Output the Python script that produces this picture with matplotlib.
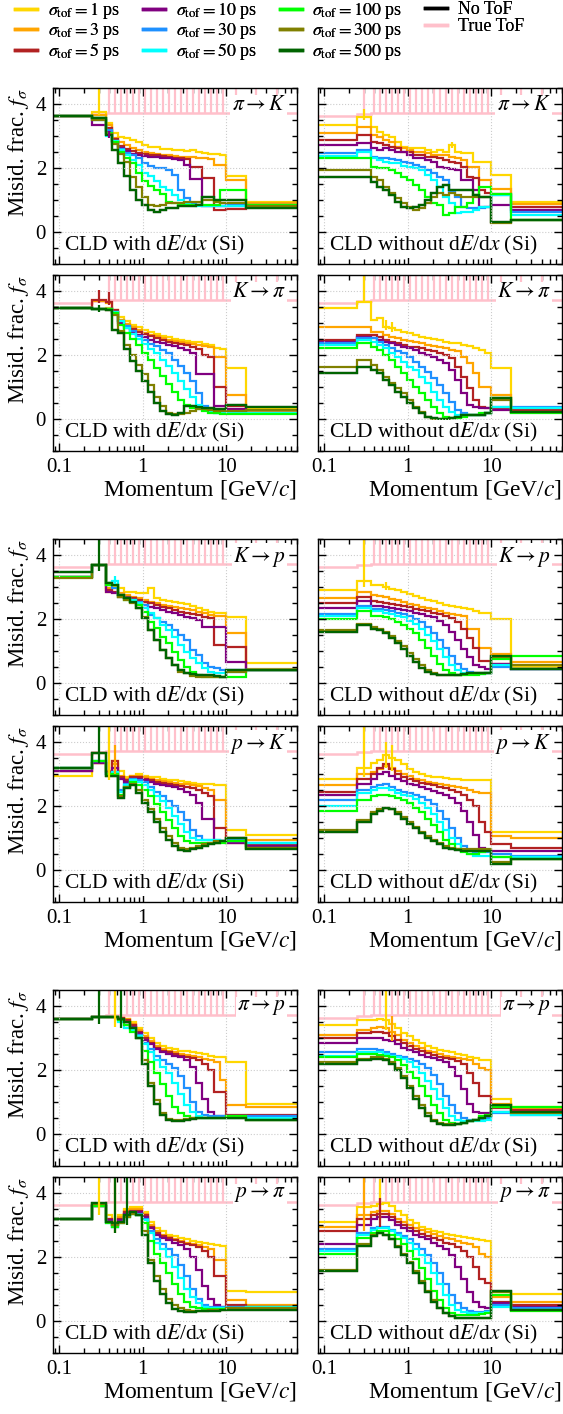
import numpy as np
import matplotlib.pyplot as plt
from matplotlib.lines import Line2D
from matplotlib.ticker import MultipleLocator, FixedLocator, LogLocator, NullFormatter

plt.rcParams['font.family'] = ['Liberation Serif', 'DejaVu Serif']
plt.rcParams['mathtext.fontset'] = 'stix'

# momentum bin edges [GeV/c]
edges = [0.02, 0.25, 0.37, 0.436, 0.514, 0.606, 0.715, 0.843, 0.994, 1.172, 1.382,
         1.629, 1.921, 2.265, 2.670, 3.148, 3.712, 4.377, 5.160, 6.084, 7.173,
         8.457, 10.0, 17.0, 30.0, 55.0, 120.0]

sigmas = ['1', '3', '5', '10', '30', '50', '100', '300', '500']
colors = ['#FFD700', '#FFA500', '#B22222', '#800080', '#1E90FF', '#00FFFF',
          '#00FF00', '#808000', '#006400']

true_tof = [3.63, 3.68] + [3.72] * 24
tof_up_dedx = [0, 0] + [2.0] * 24
tof_up_nodedx = [0] + [2.0] * 25

# ---- pi -> K
piK_dedx = {
    '1':   [3.63, 3.75, 3.40, 3.08, 2.98, 2.93, 2.88, 2.82, 2.72, 2.67, 2.65, 2.60, 2.60, 2.56, 2.56, 2.52, 2.55, 2.50, 2.47, 2.45, 2.43, 2.42, 1.75, 0.95, 0.95, 0.95],
    '3':   [3.63, 3.65, 3.35, 2.95, 2.80, 2.72, 2.62, 2.55, 2.50, 2.47, 2.45, 2.42, 2.40, 2.38, 2.35, 2.33, 2.33, 2.30, 2.30, 2.28, 2.10, 2.10, 1.62, 0.92, 0.92, 0.92],
    '5':   [3.63, 3.55, 3.25, 2.90, 2.70, 2.60, 2.52, 2.47, 2.45, 2.42, 2.40, 2.37, 2.35, 2.32, 2.30, 2.28, 2.02, 2.02, 1.68, 1.68, 0.70, 0.70, 0.72, 0.78, 0.78, 0.78],
    '10':  [3.63, 3.35, 3.15, 2.85, 2.62, 2.52, 2.45, 2.40, 2.38, 2.35, 2.33, 2.30, 2.30, 2.28, 2.25, 2.10, 1.65, 1.65, 0.80, 0.80, 0.80, 0.80, 0.80, 0.80, 0.80, 0.80],
    '30':  [3.63, 3.50, 3.20, 2.85, 2.60, 2.48, 2.40, 2.30, 2.15, 2.05, 2.00, 2.00, 1.95, 1.78, 1.31, 1.05, 0.90, 0.85, 0.80, 0.80, 0.80, 0.80, 0.85, 0.85, 0.85, 0.85],
    '50':  [3.63, 3.55, 3.00, 2.85, 2.55, 2.40, 2.25, 2.10, 1.85, 1.75, 1.60, 1.42, 1.30, 1.15, 1.00, 0.90, 0.85, 0.82, 0.80, 0.80, 0.80, 0.80, 0.82, 0.80, 0.80, 0.80],
    '100': [3.63, 3.55, 3.10, 2.80, 2.50, 2.30, 2.15, 1.85, 1.60, 1.45, 1.31, 1.20, 0.95, 0.90, 0.85, 0.85, 0.85, 0.85, 0.85, 0.85, 0.85, 1.30, 1.30, 0.85, 0.85, 0.85],
    '300': [3.63, 3.50, 3.05, 2.75, 2.45, 2.20, 1.73, 1.42, 1.10, 0.84, 0.80, 0.85, 0.90, 0.90, 0.92, 0.95, 0.95, 0.95, 1.00, 1.00, 0.95, 0.90, 0.90, 0.80, 0.80, 0.80],
    '500': [3.63, 3.55, 3.03, 2.56, 2.15, 1.75, 1.31, 1.00, 0.84, 0.69, 0.64, 0.70, 0.74, 0.76, 0.80, 0.80, 0.80, 0.85, 1.10, 1.10, 1.00, 1.00, 1.00, 0.75, 0.75, 0.75],
}
piK_nodedx = {
    '1':   [3.34, 3.60, 3.29, 3.14, 3.03, 2.98, 2.82, 2.67, 2.61, 2.61, 2.61, 2.56, 2.51, 2.56, 2.51, 2.72, 2.51, 2.46, 2.46, 2.20, 2.20, 2.20, 1.78, 0.95, 0.95, 0.95],
    '3':   [3.08, 3.29, 3.03, 2.98, 2.88, 2.82, 2.67, 2.61, 2.56, 2.51, 2.51, 2.46, 2.41, 2.41, 2.41, 2.35, 2.30, 2.25, 2.04, 2.04, 1.62, 1.62, 1.35, 0.87, 0.87, 0.87],
    '5':   [2.88, 3.03, 2.82, 2.77, 2.72, 2.67, 2.61, 2.51, 2.51, 2.41, 2.41, 2.35, 2.35, 2.30, 2.25, 2.20, 2.15, 2.04, 1.73, 1.68, 1.31, 1.21, 1.20, 0.79, 0.79, 0.79],
    '10':  [2.72, 2.77, 2.61, 2.56, 2.61, 2.56, 2.51, 2.51, 2.41, 2.30, 2.30, 2.25, 2.20, 2.04, 1.99, 1.96, 1.94, 1.62, 1.62, 1.31, 0.79, 0.79, 0.85, 0.69, 0.69, 0.69],
    '30':  [2.46, 2.56, 2.35, 2.30, 2.30, 2.27, 2.25, 2.20, 2.15, 2.09, 2.02, 1.94, 1.83, 1.73, 1.62, 1.26, 1.10, 0.79, 0.74, 0.74, 0.74, 0.79, 1.15, 0.64, 0.64, 0.64],
    '50':  [2.38, 2.51, 2.30, 2.25, 2.20, 2.15, 2.15, 2.06, 2.04, 1.99, 1.94, 1.78, 1.62, 1.42, 1.10, 0.90, 0.58, 0.64, 0.64, 0.69, 0.79, 0.79, 1.15, 0.53, 0.53, 0.53],
    '100': [2.30, 2.30, 2.04, 1.99, 1.99, 1.94, 1.83, 1.73, 1.62, 1.47, 1.31, 1.10, 0.90, 0.84, 0.53, 0.58, 0.79, 0.79, 0.90, 1.16, 1.42, 1.42, 1.20, 0.38, 0.38, 0.38],
    '300': [1.94, 1.94, 1.73, 1.62, 1.42, 1.21, 1.05, 0.90, 0.79, 0.69, 0.74, 0.90, 1.10, 1.21, 1.16, 1.21, 1.16, 1.10, 1.10, 1.10, 1.10, 1.10, 0.27, 0.38, 0.38, 0.38],
    '500': [1.73, 1.73, 1.57, 1.42, 1.31, 1.16, 0.95, 0.79, 0.74, 0.79, 0.84, 1.00, 1.21, 1.42, 1.47, 1.31, 1.31, 1.31, 1.31, 1.16, 1.10, 1.10, 0.30, 0.36, 0.36, 0.36],
}
# ---- K -> pi
Kpi_dedx = {
    '1':   [3.46, 3.45, 3.48, 3.40, 3.20, 3.05, 2.95, 2.87, 2.78, 2.72, 2.65, 2.60, 2.55, 2.50, 2.47, 2.45, 2.42, 2.40, 2.35, 2.30, 2.22, 2.20, 1.58, 0.30, 0.30, 0.30],
    '3':   [3.46, 3.68, 3.62, 3.35, 3.10, 2.98, 2.88, 2.78, 2.70, 2.63, 2.58, 2.52, 2.48, 2.44, 2.40, 2.37, 2.35, 2.32, 2.28, 2.25, 1.95, 1.95, 0.75, 0.25, 0.25, 0.25],
    '5':   [3.46, 3.72, 3.67, 3.40, 3.05, 2.90, 2.80, 2.72, 2.65, 2.58, 2.52, 2.47, 2.42, 2.37, 2.33, 2.30, 2.25, 2.20, 2.00, 1.95, 1.00, 1.00, 0.40, 0.20, 0.20, 0.20],
    '10':  [3.46, 3.45, 3.45, 3.35, 3.00, 2.85, 2.72, 2.62, 2.55, 2.48, 2.42, 2.37, 2.32, 2.27, 2.22, 2.17, 2.05, 1.40, 1.40, 1.40, 0.40, 0.40, 0.30, 0.20, 0.20, 0.20],
    '30':  [3.46, 3.45, 3.45, 3.35, 3.05, 2.90, 2.75, 2.60, 2.48, 2.35, 2.28, 2.15, 2.05, 1.85, 1.65, 1.45, 1.20, 0.80, 0.40, 0.25, 0.20, 0.20, 0.20, 0.20, 0.20, 0.20],
    '50':  [3.46, 3.45, 3.45, 3.35, 3.05, 2.85, 2.65, 2.50, 2.35, 2.20, 2.05, 1.85, 1.65, 1.45, 1.20, 0.95, 0.70, 0.45, 0.30, 0.25, 0.20, 0.20, 0.20, 0.18, 0.18, 0.18],
    '100': [3.46, 3.45, 3.45, 3.30, 2.95, 2.70, 2.50, 2.30, 2.05, 1.85, 1.60, 1.35, 1.10, 0.85, 0.60, 0.45, 0.35, 0.30, 0.25, 0.20, 0.18, 0.15, 0.15, 0.15, 0.15, 0.15],
    '300': [3.46, 3.45, 3.40, 3.25, 2.75, 2.30, 2.00, 1.70, 1.40, 1.05, 0.70, 0.40, 0.20, 0.15, 0.15, 0.20, 0.25, 0.30, 0.30, 0.28, 0.25, 0.25, 0.25, 0.28, 0.28, 0.28],
    '500': [3.46, 3.45, 3.40, 2.78, 2.70, 2.20, 1.80, 1.50, 1.20, 0.85, 0.50, 0.25, 0.15, 0.12, 0.20, 0.40, 0.42, 0.38, 0.35, 0.35, 0.32, 0.30, 0.45, 0.38, 0.38, 0.38],
}
Kpi_nodedx = {
    '1':   [3.46, 3.67, 3.10, 3.15, 2.89, 2.83, 2.78, 2.73, 2.68, 2.63, 2.57, 2.52, 2.50, 2.47, 2.42, 2.39, 2.37, 2.31, 2.28, 2.21, 2.16, 2.05, 1.58, 0.30, 0.30, 0.30],
    '3':   [2.89, 2.89, 2.73, 2.73, 2.63, 2.57, 2.52, 2.47, 2.44, 2.40, 2.37, 2.31, 2.28, 2.24, 2.21, 2.16, 2.11, 1.95, 1.74, 1.43, 1.01, 1.01, 0.75, 0.28, 0.28, 0.28],
    '5':   [2.47, 2.63, 2.63, 2.55, 2.47, 2.42, 2.37, 2.31, 2.26, 2.24, 2.21, 2.16, 2.11, 2.05, 2.00, 1.90, 1.64, 1.32, 0.96, 0.60, 0.39, 0.33, 0.33, 0.28, 0.28, 0.28],
    '10':  [2.42, 2.57, 2.52, 2.47, 2.42, 2.37, 2.31, 2.26, 2.21, 2.16, 2.07, 2.00, 1.93, 1.84, 1.74, 1.53, 1.22, 0.80, 0.44, 0.39, 0.33, 0.33, 0.28, 0.23, 0.23, 0.23],
    '30':  [2.37, 2.52, 2.52, 2.42, 2.31, 2.21, 2.11, 2.05, 1.95, 1.79, 1.64, 1.48, 1.27, 1.06, 0.80, 0.54, 0.28, 0.18, 0.13, 0.13, 0.13, 0.18, 0.39, 0.39, 0.39, 0.39],
    '50':  [2.31, 2.47, 2.42, 2.31, 2.21, 2.05, 1.95, 1.79, 1.64, 1.53, 1.32, 1.12, 0.85, 0.60, 0.39, 0.23, 0.13, 0.13, 0.13, 0.13, 0.13, 0.18, 0.39, 0.33, 0.33, 0.33],
    '100': [2.21, 2.37, 2.26, 2.16, 2.00, 1.84, 1.64, 1.43, 1.22, 1.01, 0.80, 0.60, 0.39, 0.18, 0.07, 0.02, 0.02, 0.07, 0.13, 0.13, 0.18, 0.18, 0.65, 0.18, 0.18, 0.18],
    '300': [1.64, 1.84, 1.69, 1.53, 1.32, 1.12, 0.96, 0.80, 0.60, 0.39, 0.23, 0.07, 0.00, 0.00, 0.00, 0.02, 0.07, 0.13, 0.13, 0.13, 0.13, 0.18, 0.60, 0.23, 0.23, 0.23],
    '500': [1.43, 1.64, 1.53, 1.43, 1.22, 1.06, 0.85, 0.70, 0.49, 0.33, 0.18, 0.07, 0.02, 0.00, 0.00, 0.02, 0.07, 0.13, 0.13, 0.13, 0.13, 0.18, 0.65, 0.23, 0.23, 0.23],
}
# ---- K -> p
Kp_dedx = {
    '1':   [3.30, 3.69, 2.85, 3.01, 2.96, 2.85, 2.85, 2.80, 2.80, 2.96, 2.65, 2.59, 2.56, 2.54, 2.51, 2.47, 2.41, 2.33, 2.28, 2.23, 2.20, 2.20, 2.07, 0.61, 0.61, 0.61],
    '3':   [3.30, 3.69, 2.96, 2.96, 2.80, 2.75, 2.70, 2.65, 2.59, 2.54, 2.49, 2.44, 2.41, 2.38, 2.33, 2.30, 2.28, 2.23, 2.18, 2.12, 2.10, 2.10, 1.55, 0.45, 0.45, 0.45],
    '5':   [3.30, 3.69, 2.90, 2.85, 2.75, 2.70, 2.65, 2.59, 2.54, 2.49, 2.44, 2.38, 2.33, 2.28, 2.23, 2.20, 2.16, 2.12, 2.07, 2.02, 1.19, 1.19, 1.13, 0.41, 0.41, 0.41],
    '10':  [3.30, 3.69, 2.85, 2.80, 2.70, 2.65, 2.59, 2.49, 2.44, 2.38, 2.33, 2.28, 2.23, 2.18, 2.12, 2.07, 2.02, 1.97, 1.76, 1.76, 1.76, 1.76, 0.67, 0.41, 0.41, 0.41],
    '30':  [3.30, 3.69, 3.06, 2.96, 2.75, 2.65, 2.59, 2.54, 2.44, 2.12, 2.02, 1.92, 1.81, 1.66, 1.50, 1.34, 1.03, 0.87, 0.61, 0.51, 0.46, 0.41, 0.41, 0.41, 0.41, 0.41],
    '50':  [3.30, 3.69, 3.11, 3.20, 2.75, 2.65, 2.59, 2.49, 2.33, 2.18, 2.02, 1.81, 1.66, 1.45, 1.19, 0.98, 0.77, 0.61, 0.46, 0.35, 0.30, 0.30, 0.35, 0.41, 0.41, 0.41],
    '100': [3.30, 3.69, 3.06, 3.06, 2.70, 2.59, 2.54, 2.44, 2.23, 1.92, 1.71, 1.45, 1.24, 0.98, 0.72, 0.51, 0.35, 0.25, 0.20, 0.20, 0.20, 0.20, 0.20, 0.41, 0.41, 0.41],
    '300': [3.27, 3.69, 3.11, 3.06, 2.70, 2.59, 2.49, 2.33, 2.07, 1.66, 1.34, 1.03, 0.77, 0.56, 0.35, 0.30, 0.22, 0.20, 0.20, 0.20, 0.20, 0.20, 0.35, 0.41, 0.41, 0.41],
    '500': [3.48, 3.69, 3.11, 3.06, 2.75, 2.65, 2.54, 2.33, 2.02, 1.66, 1.34, 1.03, 0.77, 0.56, 0.41, 0.30, 0.28, 0.25, 0.25, 0.25, 0.22, 0.20, 0.41, 0.41, 0.41, 0.41],
}
Kp_nodedx = {
    '1':   [2.90, 3.20, 3.05, 3.05, 3.00, 2.95, 2.90, 2.85, 2.78, 2.72, 2.65, 2.60, 2.55, 2.50, 2.45, 2.42, 2.38, 2.33, 2.30, 2.25, 2.20, 2.20, 2.00, 0.50, 0.50, 0.50],
    '3':   [2.65, 2.85, 2.75, 2.72, 2.68, 2.62, 2.58, 2.52, 2.48, 2.43, 2.38, 2.33, 2.30, 2.25, 2.20, 2.17, 2.13, 2.08, 1.70, 1.70, 1.10, 1.10, 0.90, 0.65, 0.65, 0.65],
    '5':   [2.50, 2.70, 2.55, 2.52, 2.50, 2.47, 2.43, 2.40, 2.36, 2.32, 2.28, 2.24, 2.20, 2.15, 2.10, 2.02, 1.90, 1.70, 1.40, 1.10, 0.70, 0.70, 0.60, 0.45, 0.45, 0.45],
    '10':  [2.35, 2.55, 2.40, 2.40, 2.38, 2.35, 2.32, 2.28, 2.25, 2.20, 2.15, 2.10, 2.05, 1.95, 1.80, 1.60, 1.35, 1.05, 0.80, 0.55, 0.50, 0.45, 0.60, 0.45, 0.45, 0.45],
    '30':  [2.15, 2.40, 2.30, 2.30, 2.28, 2.25, 2.20, 2.15, 2.10, 2.00, 1.90, 1.75, 1.55, 1.35, 1.10, 0.85, 0.60, 0.45, 0.35, 0.30, 0.30, 0.30, 0.50, 0.45, 0.45, 0.45],
    '50':  [2.10, 2.35, 2.25, 2.25, 2.20, 2.15, 2.10, 2.05, 1.95, 1.85, 1.70, 1.50, 1.30, 1.05, 0.80, 0.55, 0.40, 0.30, 0.28, 0.28, 0.28, 0.30, 0.55, 0.45, 0.45, 0.45],
    '100': [2.00, 2.25, 2.10, 2.10, 2.05, 2.00, 1.92, 1.82, 1.70, 1.55, 1.35, 1.10, 0.85, 0.60, 0.40, 0.30, 0.25, 0.25, 0.25, 0.25, 0.28, 0.30, 0.75, 0.85, 0.85, 0.85],
    '300': [1.65, 1.85, 1.75, 1.70, 1.60, 1.48, 1.32, 1.15, 0.95, 0.75, 0.55, 0.40, 0.30, 0.25, 0.25, 0.25, 0.25, 0.28, 0.30, 0.30, 0.30, 0.30, 0.80, 0.55, 0.55, 0.55],
    '500': [1.60, 1.80, 1.70, 1.65, 1.55, 1.42, 1.25, 1.05, 0.85, 0.65, 0.48, 0.35, 0.28, 0.25, 0.25, 0.25, 0.25, 0.28, 0.30, 0.30, 0.30, 0.30, 0.85, 0.45, 0.45, 0.45],
}
# ---- p -> K
pK_dedx = {
    '1':   [2.95, 3.35, 3.10, 3.40, 3.10, 2.90, 2.95, 3.00, 2.95, 2.90, 2.90, 2.85, 2.82, 2.80, 2.78, 2.75, 2.72, 2.70, 2.70, 2.68, 2.65, 2.65, 1.25, 1.10, 1.10, 1.10],
    '3':   [3.10, 3.35, 3.10, 3.30, 2.95, 2.85, 2.95, 2.95, 2.90, 2.85, 2.80, 2.78, 2.75, 2.72, 2.70, 2.68, 2.65, 2.62, 2.55, 2.50, 2.20, 2.20, 1.00, 0.95, 0.95, 0.95],
    '5':   [3.10, 3.35, 3.05, 3.40, 2.90, 2.80, 2.90, 2.90, 2.85, 2.80, 2.75, 2.72, 2.70, 2.67, 2.63, 2.60, 2.55, 2.50, 2.40, 2.30, 1.30, 1.30, 0.85, 0.80, 0.80, 0.80],
    '10':  [3.10, 3.35, 3.00, 3.20, 2.85, 2.75, 2.85, 2.85, 2.80, 2.75, 2.70, 2.65, 2.62, 2.58, 2.52, 2.45, 2.35, 2.10, 1.60, 1.60, 0.90, 0.90, 0.85, 0.75, 0.75, 0.75],
    '30':  [3.20, 3.40, 3.00, 3.05, 2.50, 2.70, 2.85, 2.82, 2.75, 2.60, 2.45, 2.30, 2.15, 2.00, 1.80, 1.55, 1.25, 1.05, 0.95, 0.95, 0.95, 0.90, 0.95, 0.85, 0.85, 0.85],
    '50':  [3.20, 3.40, 3.00, 3.05, 2.45, 2.65, 2.80, 2.75, 2.65, 2.50, 2.30, 2.15, 1.95, 1.70, 1.45, 1.20, 1.00, 0.95, 0.95, 0.95, 0.95, 0.90, 0.90, 0.85, 0.85, 0.85],
    '100': [3.20, 3.40, 3.00, 3.00, 2.35, 2.60, 2.75, 2.65, 2.50, 2.30, 2.05, 1.80, 1.55, 1.30, 1.05, 0.90, 0.85, 0.85, 0.85, 0.85, 0.85, 0.85, 0.90, 0.70, 0.70, 0.70],
    '300': [3.20, 3.65, 2.95, 2.95, 2.30, 2.60, 2.70, 2.50, 2.20, 1.90, 1.60, 1.30, 1.05, 0.85, 0.70, 0.65, 0.70, 0.75, 0.80, 0.85, 0.90, 0.90, 1.00, 0.70, 0.70, 0.70],
    '500': [3.20, 3.65, 2.95, 2.95, 2.25, 2.55, 2.65, 2.40, 2.10, 1.80, 1.50, 1.20, 0.95, 0.75, 0.62, 0.60, 0.65, 0.70, 0.75, 0.80, 0.85, 0.90, 1.00, 0.65, 0.65, 0.65],
}
pK_nodedx = {
    '1':   [2.85, 3.20, 3.35, 3.45, 3.60, 3.50, 3.45, 3.30, 3.15, 3.05, 3.00, 2.95, 2.92, 2.90, 2.88, 2.85, 2.85, 2.82, 2.80, 2.80, 2.80, 2.80, 1.20, 1.20, 1.20, 1.20],
    '3':   [2.65, 3.00, 3.05, 3.15, 3.25, 3.20, 3.10, 3.00, 2.95, 2.85, 2.80, 2.75, 2.72, 2.70, 2.65, 2.62, 2.60, 2.55, 2.50, 2.45, 2.40, 2.40, 1.05, 1.00, 1.00, 1.00],
    '5':   [2.45, 2.85, 3.00, 3.20, 3.30, 3.15, 3.00, 2.90, 2.85, 2.78, 2.72, 2.68, 2.65, 2.60, 2.55, 2.50, 2.45, 2.35, 2.20, 2.00, 1.50, 1.20, 0.80, 0.70, 0.70, 0.70],
    '10':  [2.35, 2.70, 2.85, 3.00, 3.05, 2.95, 2.85, 2.78, 2.70, 2.65, 2.58, 2.52, 2.48, 2.42, 2.35, 2.25, 2.10, 1.85, 1.50, 1.10, 0.70, 0.60, 0.60, 0.60, 0.60, 0.60],
    '30':  [2.20, 2.50, 2.60, 2.65, 2.70, 2.60, 2.50, 2.45, 2.40, 2.35, 2.28, 2.20, 2.05, 1.85, 1.60, 1.30, 1.00, 0.75, 0.60, 0.55, 0.55, 0.55, 0.50, 0.45, 0.45, 0.45],
    '50':  [2.00, 2.40, 2.50, 2.55, 2.55, 2.50, 2.40, 2.35, 2.30, 2.22, 2.10, 1.95, 1.75, 1.50, 1.25, 1.00, 0.80, 0.60, 0.50, 0.45, 0.45, 0.45, 0.40, 0.40, 0.40, 0.40],
    '100': [1.85, 2.20, 2.30, 2.35, 2.35, 2.30, 2.25, 2.20, 2.10, 1.95, 1.80, 1.60, 1.40, 1.20, 0.95, 0.80, 0.65, 0.55, 0.50, 0.50, 0.55, 0.60, 0.40, 0.35, 0.35, 0.35],
    '300': [1.25, 1.55, 1.80, 1.90, 1.95, 1.90, 1.80, 1.65, 1.50, 1.35, 1.20, 1.05, 0.95, 0.85, 0.75, 0.70, 0.65, 0.65, 0.65, 0.65, 0.65, 0.65, 0.25, 0.35, 0.35, 0.35],
    '500': [1.20, 1.50, 1.75, 1.85, 1.95, 1.90, 1.75, 1.60, 1.45, 1.30, 1.15, 1.00, 0.90, 0.80, 0.70, 0.65, 0.62, 0.60, 0.60, 0.60, 0.60, 0.60, 0.20, 0.35, 0.35, 0.35],
}
# ---- pi -> p
pip_dedx = {
    '1':   [3.60, 3.65, 3.65, 3.65, 3.62, 3.60, 3.50, 3.30, 3.15, 3.00, 2.85, 2.75, 2.70, 2.65, 2.60, 2.58, 2.55, 2.52, 2.50, 2.45, 2.40, 2.40, 2.25, 0.95, 0.95, 0.95],
    '3':   [3.60, 3.65, 3.65, 3.65, 3.62, 3.60, 3.45, 3.25, 3.05, 2.90, 2.75, 2.65, 2.60, 2.55, 2.50, 2.47, 2.44, 2.40, 2.35, 2.30, 2.25, 1.70, 0.90, 0.85, 0.85, 0.85],
    '5':   [3.60, 3.65, 3.65, 3.65, 3.62, 3.55, 3.40, 3.20, 3.00, 2.85, 2.70, 2.60, 2.55, 2.50, 2.45, 2.42, 2.38, 2.32, 2.20, 2.00, 1.30, 1.30, 0.60, 0.60, 0.60, 0.60],
    '10':  [3.60, 3.65, 3.65, 3.65, 3.60, 3.50, 3.35, 3.15, 2.95, 2.80, 2.65, 2.55, 2.50, 2.45, 2.40, 2.30, 2.10, 1.60, 1.10, 0.70, 0.55, 0.55, 0.55, 0.55, 0.55, 0.55],
    '30':  [3.60, 3.65, 3.65, 3.65, 3.55, 3.40, 3.30, 3.10, 2.85, 2.65, 2.45, 2.30, 2.20, 2.05, 1.80, 1.45, 1.00, 0.70, 0.60, 0.55, 0.55, 0.55, 0.55, 0.55, 0.55, 0.55],
    '50':  [3.60, 3.65, 3.65, 3.65, 3.50, 3.30, 3.25, 3.05, 2.80, 2.55, 2.30, 2.10, 1.90, 1.60, 1.25, 0.90, 0.70, 0.55, 0.50, 0.50, 0.50, 0.50, 0.50, 0.50, 0.50, 0.50],
    '100': [3.60, 3.65, 3.65, 3.65, 3.55, 3.40, 3.20, 3.00, 2.60, 2.25, 1.90, 1.55, 1.20, 0.85, 0.65, 0.55, 0.50, 0.50, 0.50, 0.50, 0.50, 0.50, 0.55, 0.45, 0.45, 0.45],
    '300': [3.60, 3.65, 3.65, 3.65, 3.60, 3.50, 3.30, 3.00, 2.30, 1.60, 1.05, 0.65, 0.48, 0.45, 0.45, 0.48, 0.50, 0.50, 0.50, 0.50, 0.50, 0.50, 0.50, 0.45, 0.45, 0.45],
    '500': [3.60, 3.65, 3.65, 3.65, 3.60, 3.50, 3.30, 3.00, 2.20, 1.50, 0.95, 0.60, 0.45, 0.42, 0.42, 0.45, 0.48, 0.50, 0.50, 0.50, 0.50, 0.50, 0.50, 0.45, 0.45, 0.45],
}
pip_nodedx = {
    '1':   [3.40, 3.55, 3.55, 3.60, 3.55, 3.45, 3.30, 3.15, 3.05, 2.95, 2.85, 2.75, 2.68, 2.62, 2.58, 2.55, 2.50, 2.47, 2.42, 2.38, 2.32, 2.30, 1.10, 0.85, 0.85, 0.85],
    '3':   [3.10, 3.25, 3.30, 3.35, 3.30, 3.20, 3.10, 2.95, 2.85, 2.75, 2.68, 2.60, 2.55, 2.50, 2.45, 2.42, 2.38, 2.35, 2.30, 2.20, 2.05, 2.00, 0.95, 0.80, 0.80, 0.80],
    '5':   [3.00, 3.15, 3.20, 3.20, 3.15, 3.05, 2.95, 2.85, 2.75, 2.65, 2.58, 2.52, 2.47, 2.42, 2.38, 2.34, 2.28, 2.20, 1.90, 1.60, 1.20, 1.20, 0.80, 0.75, 0.75, 0.75],
    '10':  [2.85, 3.00, 3.00, 3.00, 2.95, 2.90, 2.80, 2.70, 2.62, 2.55, 2.48, 2.42, 2.38, 2.32, 2.25, 2.10, 1.80, 1.40, 0.95, 0.70, 0.65, 0.65, 0.70, 0.70, 0.70, 0.70],
    '30':  [2.55, 2.65, 2.65, 2.62, 2.55, 2.50, 2.45, 2.40, 2.35, 2.28, 2.20, 2.05, 1.85, 1.55, 1.20, 0.90, 0.65, 0.50, 0.45, 0.45, 0.45, 0.50, 0.65, 0.60, 0.60, 0.60],
    '50':  [2.45, 2.55, 2.55, 2.55, 2.50, 2.45, 2.40, 2.35, 2.25, 2.10, 1.90, 1.65, 1.40, 1.10, 0.80, 0.55, 0.45, 0.40, 0.40, 0.40, 0.40, 0.45, 0.70, 0.60, 0.60, 0.60],
    '100': [2.40, 2.50, 2.50, 2.48, 2.45, 2.40, 2.30, 2.15, 1.95, 1.75, 1.50, 1.20, 0.90, 0.65, 0.45, 0.35, 0.32, 0.35, 0.40, 0.45, 0.55, 0.60, 0.85, 0.85, 0.85, 0.85],
    '300': [2.25, 2.35, 2.40, 2.40, 2.35, 2.25, 2.05, 1.80, 1.50, 1.20, 0.90, 0.65, 0.45, 0.35, 0.30, 0.30, 0.32, 0.35, 0.40, 0.45, 0.50, 0.55, 0.90, 0.65, 0.65, 0.65],
    '500': [2.20, 2.30, 2.35, 2.35, 2.30, 2.20, 2.00, 1.75, 1.45, 1.10, 0.80, 0.55, 0.40, 0.32, 0.28, 0.28, 0.30, 0.35, 0.40, 0.45, 0.50, 0.55, 0.90, 0.70, 0.70, 0.70],
}
# ---- p -> pi
ppi_dedx = {
    '1':   [3.20, 3.60, 3.30, 3.10, 3.30, 3.50, 3.55, 3.55, 3.40, 3.10, 2.90, 2.80, 2.70, 2.65, 2.60, 2.55, 2.50, 2.47, 2.45, 2.42, 2.38, 2.35, 0.95, 0.90, 0.90, 0.90],
    '3':   [3.20, 3.60, 3.20, 3.05, 3.25, 3.45, 3.50, 3.50, 3.35, 3.00, 2.80, 2.70, 2.62, 2.55, 2.50, 2.45, 2.42, 2.38, 2.32, 2.25, 1.90, 1.90, 0.65, 0.50, 0.50, 0.50],
    '5':   [3.20, 3.60, 3.20, 3.00, 3.20, 3.40, 3.45, 3.45, 3.30, 2.95, 2.75, 2.65, 2.58, 2.52, 2.47, 2.42, 2.38, 2.32, 2.20, 2.00, 1.40, 1.40, 0.50, 0.45, 0.45, 0.45],
    '10':  [3.20, 3.60, 3.15, 3.00, 3.15, 3.35, 3.40, 3.40, 3.25, 2.90, 2.70, 2.60, 2.52, 2.45, 2.38, 2.25, 2.00, 1.60, 1.10, 0.70, 0.50, 0.45, 0.45, 0.45, 0.45, 0.45],
    '30':  [3.20, 3.60, 3.10, 2.95, 3.10, 3.30, 3.40, 3.35, 3.20, 2.80, 2.55, 2.40, 2.25, 2.05, 1.75, 1.40, 1.00, 0.70, 0.50, 0.45, 0.45, 0.45, 0.45, 0.45, 0.45, 0.45],
    '50':  [3.20, 3.60, 3.05, 2.95, 3.05, 3.25, 3.35, 3.30, 3.15, 2.75, 2.45, 2.25, 2.00, 1.70, 1.35, 1.00, 0.75, 0.55, 0.45, 0.42, 0.42, 0.42, 0.42, 0.45, 0.45, 0.45],
    '100': [3.20, 3.60, 3.05, 2.95, 3.05, 3.25, 3.35, 3.30, 3.05, 2.50, 2.10, 1.80, 1.50, 1.15, 0.85, 0.60, 0.45, 0.40, 0.38, 0.38, 0.38, 0.38, 0.40, 0.40, 0.40, 0.40],
    '300': [3.20, 3.65, 3.10, 3.00, 3.05, 3.25, 3.35, 3.30, 2.80, 1.90, 1.40, 1.00, 0.70, 0.50, 0.40, 0.35, 0.32, 0.32, 0.32, 0.35, 0.35, 0.35, 0.40, 0.40, 0.40, 0.40],
    '500': [3.20, 3.70, 3.10, 3.05, 3.10, 3.30, 3.40, 3.30, 2.70, 1.80, 1.25, 0.85, 0.55, 0.38, 0.30, 0.28, 0.28, 0.30, 0.30, 0.32, 0.32, 0.35, 0.35, 0.35, 0.35, 0.35],
}
ppi_nodedx = {
    '1':   [3.10, 3.55, 3.60, 3.65, 3.70, 3.60, 3.45, 3.30, 3.15, 3.05, 2.95, 2.88, 2.82, 2.78, 2.72, 2.68, 2.65, 2.62, 2.58, 2.55, 2.52, 2.50, 0.90, 0.85, 0.85, 0.85],
    '3':   [2.95, 3.30, 3.40, 3.45, 3.45, 3.35, 3.20, 3.10, 3.00, 2.92, 2.85, 2.78, 2.72, 2.65, 2.60, 2.55, 2.50, 2.45, 2.40, 2.30, 2.10, 2.00, 0.75, 0.60, 0.60, 0.60],
    '5':   [2.80, 3.20, 3.30, 3.35, 3.35, 3.25, 3.10, 3.00, 2.90, 2.80, 2.72, 2.65, 2.58, 2.52, 2.45, 2.40, 2.32, 2.20, 2.00, 1.70, 1.30, 1.20, 0.60, 0.50, 0.50, 0.50],
    '10':  [2.40, 3.00, 3.20, 3.25, 3.25, 3.15, 3.00, 2.90, 2.80, 2.70, 2.62, 2.55, 2.45, 2.35, 2.25, 2.05, 1.70, 1.30, 0.90, 0.60, 0.45, 0.40, 0.55, 0.45, 0.45, 0.45],
    '30':  [2.25, 2.75, 2.90, 2.95, 2.95, 2.85, 2.75, 2.65, 2.55, 2.42, 2.25, 2.05, 1.80, 1.50, 1.15, 0.80, 0.55, 0.40, 0.30, 0.28, 0.28, 0.30, 0.50, 0.40, 0.40, 0.40],
    '50':  [2.20, 2.70, 2.85, 2.90, 2.90, 2.80, 2.70, 2.58, 2.45, 2.25, 2.05, 1.80, 1.50, 1.15, 0.80, 0.50, 0.35, 0.28, 0.25, 0.25, 0.25, 0.28, 0.45, 0.35, 0.35, 0.35],
    '100': [2.10, 2.60, 2.75, 2.80, 2.80, 2.70, 2.55, 2.40, 2.20, 1.95, 1.65, 1.30, 0.95, 0.65, 0.40, 0.25, 0.20, 0.18, 0.18, 0.20, 0.22, 0.25, 0.80, 0.30, 0.30, 0.30],
    '300': [1.60, 2.40, 2.70, 2.75, 2.70, 2.55, 2.35, 2.10, 1.85, 1.55, 1.25, 0.95, 0.65, 0.40, 0.25, 0.15, 0.10, 0.08, 0.08, 0.08, 0.08, 0.10, 0.90, 0.35, 0.35, 0.35],
    '500': [1.55, 2.35, 2.65, 2.75, 2.70, 2.55, 2.30, 2.05, 1.80, 1.50, 1.20, 0.90, 0.60, 0.40, 0.25, 0.15, 0.10, 0.08, 0.08, 0.08, 0.08, 0.10, 0.95, 0.35, 0.35, 0.35],
}

# large error bars seen on the plot: (series, bin, down, up)
piK_dedx_err = [('500', 0, 0.3, 1.5), ('10', 0, 0.3, 0.0), ('1', 1, 0.1, 1.5), ('10', 2, 0.2, 0.0)]
piK_nodedx_err = [('1', 1, 0.1, 0.25), ('1', 15, 0.1, 0.1)]
Kpi_dedx_err = [('500', 0, 0.1, 1.5), ('5', 1, 0.1, 0.3), ('5', 2, 0.1, 0.3), ('500', 1, 0.1, 0.1)]
Kpi_nodedx_err = [('1', 0, 0.0, 1.5), ('1', 1, 0.05, 1.5), ('1', 4, 0.1, 0.2), ('1', 5, 0.1, 0.2)]
Kp_dedx_err = [('3', 0, 0.3, 1.5), ('500', 0, 0.3, 0.2), ('500', 1, 0.2, 1.0), ('50', 3, 0.1, 0.15)]
Kp_nodedx_err = [('1', 1, 0.2, 1.5), ('1', 4, 0.1, 0.15)]
pK_dedx_err = [('1', 0, 0.2, 0.2), ('500', 1, 0.3, 1.5), ('1', 2, 0.3, 1.5), ('3', 3, 0.3, 0.6)]
pK_nodedx_err = [('1', 0, 0.0, 1.5), ('1', 1, 0.3, 1.5), ('1', 4, 0.4, 0.4), ('1', 5, 0.4, 0.4)]
pip_dedx_err = [('1', 0, 0.3, 0.2), ('500', 1, 0.2, 1.5), ('1', 3, 0.3, 1.5), ('500', 4, 0.3, 1.5)]
pip_nodedx_err = [('1', 0, 0.3, 0.3), ('1', 4, 0.3, 1.0), ('3', 5, 0.3, 0.5)]
ppi_dedx_err = [('1', 1, 0.3, 1.5), ('3', 3, 0.3, 1.5), ('500', 3, 0.3, 1.5), ('500', 5, 0.3, 1.5)]
ppi_nodedx_err = [('1', 0, 0.0, 1.5), ('3', 1, 0.5, 1.5), ('1', 3, 0.5, 0.8), ('5', 3, 0.4, 0.5)]

panels = [
    (piK_dedx, piK_dedx_err, piK_nodedx, piK_nodedx_err, r'$\pi\rightarrow K$'),
    (Kpi_dedx, Kpi_dedx_err, Kpi_nodedx, Kpi_nodedx_err, r'$K\rightarrow\pi$'),
    (Kp_dedx, Kp_dedx_err, Kp_nodedx, Kp_nodedx_err, r'$K\rightarrow p$'),
    (pK_dedx, pK_dedx_err, pK_nodedx, pK_nodedx_err, r'$p\rightarrow K$'),
    (pip_dedx, pip_dedx_err, pip_nodedx, pip_nodedx_err, r'$\pi\rightarrow p$'),
    (ppi_dedx, ppi_dedx_err, ppi_nodedx, ppi_nodedx_err, r'$p\rightarrow\pi$'),
]

centers = np.sqrt(np.array(edges[:-1]) * np.array(edges[1:]))

W, H = 563, 1414
fig = plt.figure(figsize=(W / 100, H / 100), dpi=100)


def draw(ax, data, errs, tof_up, label, bottom_row, left_col):
    ax.stairs(true_tof, edges, color='pink', lw=1.8, baseline=None)
    ax.errorbar(centers, true_tof, yerr=[np.zeros(len(true_tof)), tof_up],
                fmt='none', ecolor='pink', elinewidth=1.6)
    ax.stairs(data['500'], edges, color='black', lw=1.6, baseline=None)
    for s, c in zip(sigmas, colors):
        ax.stairs(data[s], edges, color=c, lw=1.6, baseline=None)
    for s, b, lo, hi in errs:
        c = colors[sigmas.index(s)]
        ax.errorbar([centers[b]], [data[s][b]], yerr=[[lo], [hi]],
                    fmt='none', ecolor=c, elinewidth=1.6)

    ax.set_xscale('log')
    ax.set_xlim(0.085, 70)
    ax.set_ylim(-1, 4.5)
    ax.xaxis.set_major_locator(FixedLocator([0.1, 1, 10]))
    ax.xaxis.set_minor_locator(LogLocator(base=10, subs=np.arange(2, 10)))
    ax.xaxis.set_minor_formatter(NullFormatter())
    ax.yaxis.set_major_locator(MultipleLocator(2))
    ax.yaxis.set_minor_locator(MultipleLocator(0.5))
    ax.grid(True, which='major', color='#cccccc', ls=':', lw=0.8)
    ax.tick_params(which='both', direction='in', top=True, right=True,
                   labelsize=15, width=1.0)
    ax.tick_params(which='major', length=6, pad=5)
    ax.tick_params(which='minor', length=3.5)
    for sp in ax.spines.values():
        sp.set_linewidth(1.0)

    if bottom_row:
        ax.set_xticklabels(['0.1', '1', '10'])
        ax.set_xlabel(r'Momentum [GeV/$c$]', fontsize=17, loc='right', labelpad=1)
    else:
        ax.set_xticklabels([])
    if left_col:
        ax.set_ylabel(r'Misid. frac. $f_\sigma$', fontsize=16.5, loc='top', labelpad=3)
        txt = r'CLD with d$E$/d$x$ (Si)'
    else:
        ax.set_yticklabels([])
        txt = r'CLD without d$E$/d$x$ (Si)'

    ax.text(0.045, 0.105, txt, transform=ax.transAxes, ha='left', va='center',
            fontsize=15.5, bbox=dict(fc='white', ec='none', pad=1.0))
    ax.text(0.955, 0.9, label, transform=ax.transAxes, ha='right', va='center',
            fontsize=15.5, bbox=dict(fc='white', ec='none', pad=1.0))


ph = 176
for i, (dl, el, dr, er, label) in enumerate(panels):
    group, row = divmod(i, 2)
    top = 88 + 451 * group + 187 * row
    yb = 1 - (top + ph) / H
    axl = fig.add_axes([53 / W, yb, 244 / W, ph / H])
    axr = fig.add_axes([318 / W, yb, 244 / W, ph / H])
    draw(axl, dl, el, tof_up_dedx, label, row == 1, True)
    draw(axr, dr, er, tof_up_nodedx, label, row == 1, False)

# legend: four columns placed at the positions seen in the reference
handles = [Line2D([], [], color=c, lw=2.5) for c in colors]
labels = [r'$\sigma_\mathrm{tof} = %s$ ps' % s for s in sigmas]
handles += [Line2D([], [], color='black', lw=2.5), Line2D([], [], color='pink', lw=2.5)]
labels += ['No ToF', 'True ToF']
col_x = [15, 143, 280, 425]
for k, x0 in enumerate(col_x):
    leg = fig.legend(handles[3 * k:3 * k + 3], labels[3 * k:3 * k + 3], ncol=1,
                     loc='upper left', bbox_to_anchor=(x0 / W, 1.0 - 1.0 / H),
                     frameon=False, fontsize=13, handlelength=1.2, handletextpad=0.6,
                     labelspacing=0.0, borderpad=0.0, borderaxespad=0.0)
    fig.add_artist(leg)

fig.savefig('out.png', dpi=100)
